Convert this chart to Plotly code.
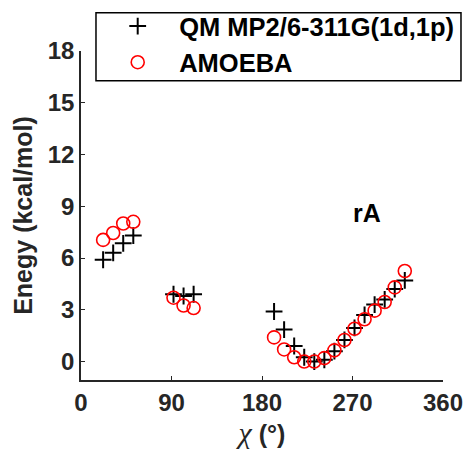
import plotly.graph_objects as go

chi = [22, 32, 42, 52, 92, 102, 112,
       192, 202, 212, 222, 232, 242, 252, 262, 272, 282, 292, 302, 312, 322]
qm = [5.9, 6.3, 6.85, 7.3, 3.9, 3.8, 3.9,
      2.9, 1.85, 0.9, 0.25, 0.0, 0.1, 0.6, 1.25, 1.95, 2.7, 3.3, 3.6, 4.2, 4.7]
amoeba = [7.05, 7.45, 8.0, 8.1, 3.7, 3.25, 3.1,
          1.4, 0.7, 0.25, 0.0, 0.0, 0.2, 0.65, 1.25, 1.9, 2.45, 2.95, 3.45, 4.3, 5.25]

x_ticks = [0, 90, 180, 270, 360]
y_ticks = [0, 3, 6, 9, 12, 15, 18]

FONT = "Liberation Sans, Arial, sans-serif"
AX = "#262626"

fig = go.Figure()
fig.add_trace(go.Scatter(
    x=chi, y=qm, mode="markers", name="<b>QM MP2/6-311G(1d,1p)</b>",
    marker=dict(symbol="cross-thin", size=12, line=dict(color="black", width=2), color="black"),
))
fig.add_trace(go.Scatter(
    x=chi, y=amoeba, mode="markers", name="<b>AMOEBA</b>",
    marker=dict(symbol="circle-open", size=13, color="red", line=dict(color="red", width=1.6)),
))

fig.add_annotation(x=284, y=8.6, text="<b>rA</b>", showarrow=False,
                   font=dict(family=FONT, size=25, color="black"))

# legend frame
fig.add_shape(type="rect", xref="paper", yref="paper",
              x0=0.0414, x1=1.0497, y0=0.9097, y1=1.1164,
              line=dict(color="black", width=1.5), fillcolor="rgba(0,0,0,0)", layer="above")

fig.update_layout(
    width=466, height=455,
    margin=dict(l=81, r=23, t=51, b=75, autoexpand=False),
    paper_bgcolor="white", plot_bgcolor="white",
    font=dict(family=FONT, size=24, color=AX),
    showlegend=True,
    legend=dict(
        x=0.042, y=1.146, xanchor="left", yanchor="top",
        borderwidth=0, bgcolor="rgba(0,0,0,0)",
        font=dict(family=FONT, size=25.5, color="black"),
        itemwidth=73, tracegroupgap=0,
    ),
    xaxis=dict(
        range=[0, 360], tickvals=x_ticks, ticktext=[f"<b>{t}</b>" for t in x_ticks],
        showline=True, linecolor=AX, linewidth=1.5, mirror=False, automargin=False,
        ticks="inside", ticklen=4, tickwidth=1.2, tickcolor=AX,
        showgrid=False, zeroline=False,
        title=dict(text="<span style='font-family:Liberation Serif;font-size:30px'><i>χ</i></span> <b>(°)</b>",
                   font=dict(family=FONT, size=25, color=AX), standoff=8),
    ),
    yaxis=dict(
        range=[-1.07, 18], tickvals=y_ticks, ticktext=[f"<b>{t}</b>" for t in y_ticks],
        showline=True, linecolor=AX, linewidth=1.5, mirror=False, automargin=False,
        ticks="inside", ticklen=4, tickwidth=1.2, tickcolor=AX,
        showgrid=False, zeroline=False,
        title=dict(text="<b>Enegy (kcal/mol)</b>", font=dict(family=FONT, size=25, color=AX), standoff=8),
    ),
)

fig.write_html("out.html")
